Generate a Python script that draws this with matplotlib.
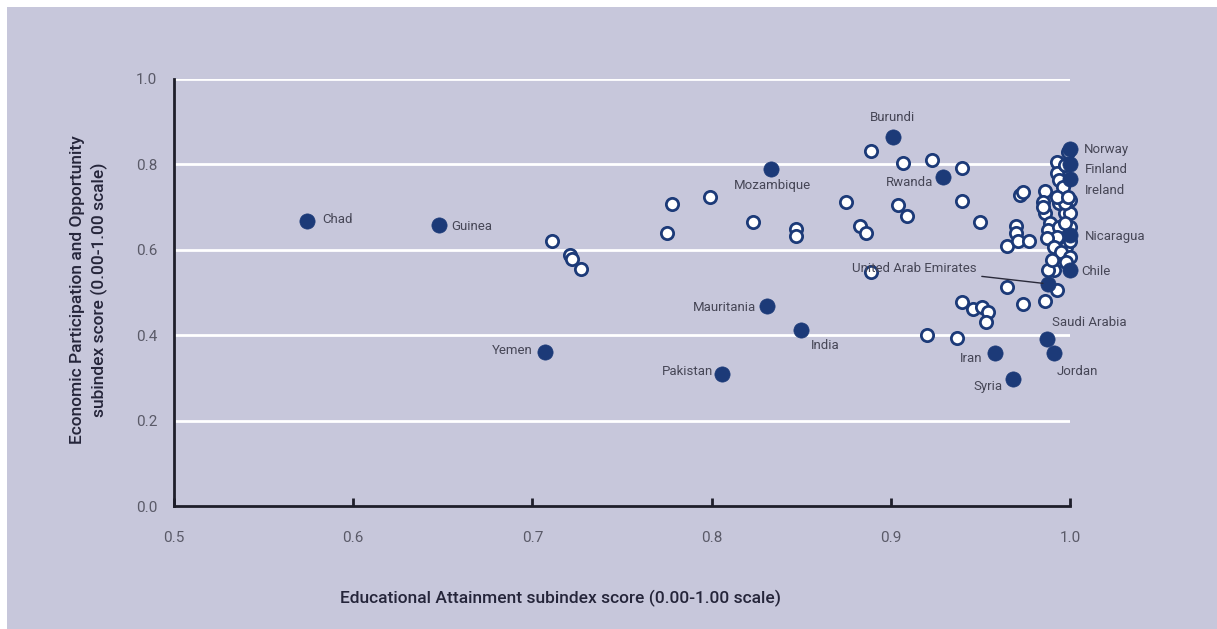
import matplotlib.pyplot as plt
from matplotlib.patches import Rectangle

plt.rcParams['font.family'] = ['Roboto', 'DejaVu Sans']

# open circles: all other countries
edu_all = [0.711, 0.721, 0.722, 0.727, 0.775, 0.778, 0.799, 0.823, 0.847, 0.847,
           0.875, 0.883, 0.886, 0.889, 0.907, 0.923, 0.904, 0.909, 0.889, 0.940,
           0.940, 0.950, 0.965, 0.940, 0.946, 0.951, 0.954, 0.953, 0.920, 0.937,
           0.965, 0.974, 0.986, 0.993, 0.991, 0.988, 0.972, 0.974, 0.970, 0.970,
           0.971, 0.977, 0.986, 0.985, 0.993, 0.993, 0.994, 0.997, 0.999, 1.000,
           0.997, 0.986, 0.989, 0.994, 0.988, 0.994, 0.993, 0.987, 0.991, 0.998,
           0.995, 1.000, 0.998, 1.000, 1.000, 0.997, 0.996, 0.993, 0.999, 0.997,
           0.985, 1.000, 0.990]
econ_all = [0.621, 0.588, 0.578, 0.555, 0.639, 0.707, 0.724, 0.665, 0.649, 0.632,
            0.712, 0.656, 0.639, 0.831, 0.803, 0.810, 0.704, 0.679, 0.548, 0.791,
            0.715, 0.665, 0.609, 0.478, 0.461, 0.466, 0.454, 0.431, 0.400, 0.393,
            0.512, 0.472, 0.481, 0.506, 0.553, 0.553, 0.728, 0.736, 0.656, 0.639,
            0.621, 0.621, 0.738, 0.712, 0.806, 0.780, 0.763, 0.799, 0.830, 0.717,
            0.686, 0.686, 0.662, 0.709, 0.646, 0.654, 0.630, 0.627, 0.607, 0.607,
            0.595, 0.583, 0.571, 0.686, 0.654, 0.709, 0.747, 0.724, 0.724, 0.662,
            0.700, 0.620, 0.575]

# highlighted countries
countries = ['Chad', 'Guinea', 'Yemen', 'Pakistan', 'Mauritania', 'India',
             'Mozambique', 'Burundi', 'Rwanda', 'Iran', 'Syria', 'Saudi Arabia',
             'Jordan', 'United Arab Emirates', 'Chile', 'Nicaragua', 'Ireland',
             'Finland', 'Norway']
edu_hl = [0.574, 0.648, 0.707, 0.806, 0.831, 0.850, 0.833, 0.901, 0.929, 0.958,
          0.968, 0.987, 0.991, 0.988, 1.000, 1.000, 1.000, 1.000, 1.000]
econ_hl = [0.667, 0.658, 0.361, 0.309, 0.468, 0.412, 0.789, 0.864, 0.770, 0.358,
           0.297, 0.391, 0.358, 0.520, 0.553, 0.635, 0.765, 0.800, 0.836]

# label placement (offset in points, horizontal alignment)
label_pos = {
    'Chad': (11, 1, 'left'), 'Guinea': (9, -1, 'left'),
    'Yemen': (-9, 1, 'right'), 'Pakistan': (-7, 2, 'right'),
    'Mauritania': (-8, -1, 'right'), 'India': (7, -11, 'left'),
    'Mozambique': (1, -12, 'center'), 'Burundi': (0, 14, 'center'),
    'Rwanda': (-7, -4, 'right'), 'Iran': (-9, -4, 'right'),
    'Syria': (-7, -5, 'right'), 'Saudi Arabia': (4, 12, 'left'),
    'Jordan': (2, -13, 'left'), 'Chile': (8, -1, 'left'),
    'Nicaragua': (11, -1, 'left'), 'Ireland': (11, -8, 'left'),
    'Finland': (11, -4, 'left'), 'Norway': (10, 0, 'left'),
}

navy = '#1c3a78'
bg = '#c7c7db'
text_col = '#464656'

fig = plt.figure(figsize=(12.17, 6.29), dpi=100, facecolor='white')
fig.patches.append(Rectangle((7 / 1217, 0), 1, 1 - 7 / 629, transform=fig.transFigure,
                             facecolor=bg, edgecolor='none', zorder=-10))
ax = fig.add_axes([174 / 1217, 1 - 506 / 629, 896 / 1217, 427 / 629])
ax.set_facecolor(bg)

ax.set_xlim(0.5, 1.0)
ax.set_ylim(0.0, 1.0)
for y in [0.2, 0.4, 0.6, 0.8, 1.0]:
    ax.axhline(y, color='white', lw=2, zorder=1)

ax.scatter(edu_all, econ_all, s=78, facecolor='white', edgecolor=navy,
           linewidth=2, zorder=3, clip_on=False)
ax.scatter(edu_hl, econ_hl, s=120, facecolor=navy, edgecolor=navy,
           linewidth=0.5, zorder=4, clip_on=False)

for name, x, y in zip(countries, edu_hl, econ_hl):
    if name == 'United Arab Emirates':
        ax.annotate(name, xy=(x, y), xytext=(-52, 11), textcoords='offset points',
                    ha='right', va='center', fontsize=9.5, color=text_col,
                    arrowprops=dict(arrowstyle='-', color='#2a2a3a', lw=1,
                                    shrinkA=2, shrinkB=4), zorder=5)
        continue
    dx, dy, ha = label_pos[name]
    ax.annotate(name, xy=(x, y), xytext=(dx, dy), textcoords='offset points',
                ha=ha, va='center', fontsize=9.5, color=text_col, zorder=5)

for side in ['top', 'right']:
    ax.spines[side].set_visible(False)
for side in ['left', 'bottom']:
    ax.spines[side].set_color('#1e1e2a')
    ax.spines[side].set_linewidth(2)

ax.set_xticks([0.5, 0.6, 0.7, 0.8, 0.9, 1.0])
ax.set_xticklabels(['0.5', '0.6', '0.7', '0.8', '0.9', '1.0'])
ax.set_yticks([0.0, 0.2, 0.4, 0.6, 0.8, 1.0])
ax.set_yticklabels(['0.0', '0.2', '0.4', '0.6', '0.8', '1.0'])
ax.tick_params(axis='x', direction='in', length=6, width=2, color='#1e1e2a',
               pad=18, labelsize=11, labelcolor='#5a5a68')
ax.tick_params(axis='y', length=0, pad=12, labelsize=11, labelcolor='#5a5a68')

fig.text(560 / 1217, 1 - 598 / 629, 'Educational Attainment subindex score (0.00-1.00 scale)',
         ha='center', va='center', fontsize=12.5, fontweight='medium', color='#25253a')
fig.text(89 / 1217, 1 - 290 / 629,
         'Economic Participation and Opportunity\nsubindex score (0.00-1.00 scale)',
         ha='center', va='center', rotation=90, fontsize=12.5, fontweight='medium',
         color='#25253a', linespacing=1.4)

fig.savefig('out.png', dpi=100, facecolor='white')
